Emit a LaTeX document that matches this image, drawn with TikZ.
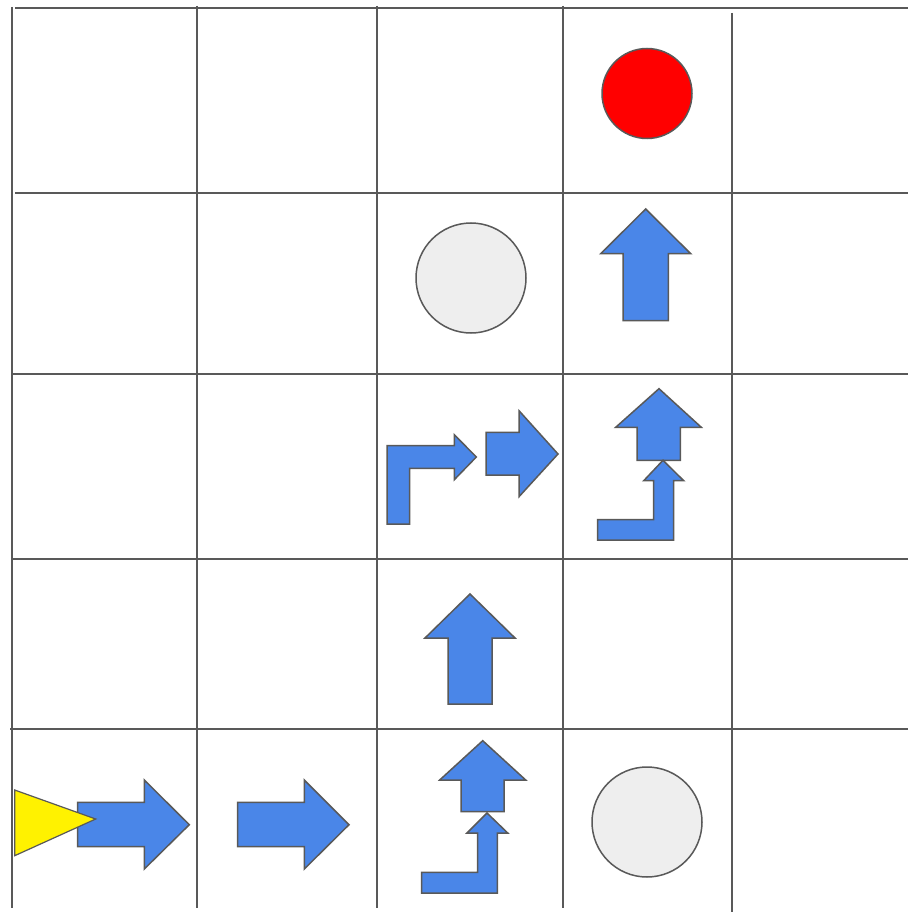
\documentclass[tikz,border=0pt]{standalone}
\usetikzlibrary{}
\definecolor{gridgray}{HTML}{595959}
\definecolor{arrowblue}{HTML}{4A86E8}
\definecolor{lightdisk}{HTML}{EEEEEE}
\begin{document}
\begin{tikzpicture}[x=1pt,y=-1pt,
  gridline/.style={draw=gridgray,line width=2pt},
  blockarrow/.style={draw=gridgray,fill=arrowblue,line width=1.5pt,line join=miter},
  disk/.style={draw=gridgray,line width=1.5pt},
  startmark/.style={draw=gridgray,fill=yellow,line width=1.2pt,line join=miter}]
\useasboundingbox[fill=white] (0,0) rectangle (908,912);
% grid
\draw[gridline] (15,8) -- (908,8);
\draw[gridline] (15,193) -- (908,193);
\draw[gridline] (12,374) -- (908,374);
\draw[gridline] (12,559) -- (908,559);
\draw[gridline] (10,729) -- (908,729);
\draw[gridline] (12,7) -- (12,908);
\draw[gridline] (197,6) -- (197,908);
\draw[gridline] (377,6) -- (377,908);
\draw[gridline] (563,6) -- (563,908);
\draw[gridline] (732,13) -- (732,912);
% goal and obstacles
\draw[disk,fill=red] (647,93.5) circle (45);
\draw[disk,fill=lightdisk] (471,278) circle (55);
\draw[disk,fill=lightdisk] (647,822) circle (55);
% up arrow cell (563,193)
\draw[blockarrow] (645.7,209) -- (690.7,253.7) -- (668.3,253.7) -- (668.3,320.7) -- (623,320.7) -- (623,253.7) -- (600.7,253.7) -- cycle;
% up arrow cell (377,559)
\draw[blockarrow] (470,594) -- (515,638) -- (492,638) -- (492,704) -- (448,704) -- (448,638) -- (425,638) -- cycle;
% bent arrow cell (377,374)
\draw[blockarrow] (387,445.7) -- (454.3,445.7) -- (454.3,434.7) -- (476.3,457) -- (454.3,479.7) -- (454.3,468.3) -- (409.7,468.3) -- (409.7,524) -- (387,524) -- cycle;
% right arrow cell (377,374)
\draw[blockarrow] (486,432.3) -- (519,432.3) -- (519,410.7) -- (558,454) -- (519,496.7) -- (519,475) -- (486,475) -- cycle;
% up arrow cell (563,374)
\draw[blockarrow] (659,388.7) -- (701.3,427.3) -- (680.3,427.3) -- (680.3,460.3) -- (637,460.3) -- (637,427.3) -- (615.7,427.3) -- cycle;
% bent up arrow cell (563,374)
\draw[blockarrow] (663,460.3) -- (683.7,480.7) -- (673.7,480.7) -- (673.7,540) -- (597.7,540) -- (597.7,519.7) -- (653.7,519.7) -- (653.7,480.7) -- (643.7,480.7) -- cycle;
% up arrow cell (377,729)
\draw[blockarrow] (482.7,740.7) -- (525.7,780) -- (504,780) -- (504,811.7) -- (461,811.7) -- (461,780) -- (439.7,780) -- cycle;
% bent up arrow cell (377,729)
\draw[blockarrow] (487,813) -- (507.7,833) -- (497.3,833) -- (497.3,893) -- (421.7,893) -- (421.7,872.3) -- (477.7,872.3) -- (477.7,833) -- (467,833) -- cycle;
% right arrows bottom row
\draw[blockarrow] (77.7,802.3) -- (144.3,802.3) -- (144.3,780) -- (189.3,824.7) -- (144.3,869) -- (144.3,846.7) -- (77.7,846.7) -- cycle;
\draw[blockarrow] (237.7,802.3) -- (304.3,802.3) -- (304.3,780) -- (349,824.7) -- (304.3,869) -- (304.3,846.7) -- (237.7,846.7) -- cycle;
% start marker
\draw[startmark] (14.7,790) -- (95.7,819) -- (14.7,855.7) -- cycle;
\end{tikzpicture}
\end{document}
